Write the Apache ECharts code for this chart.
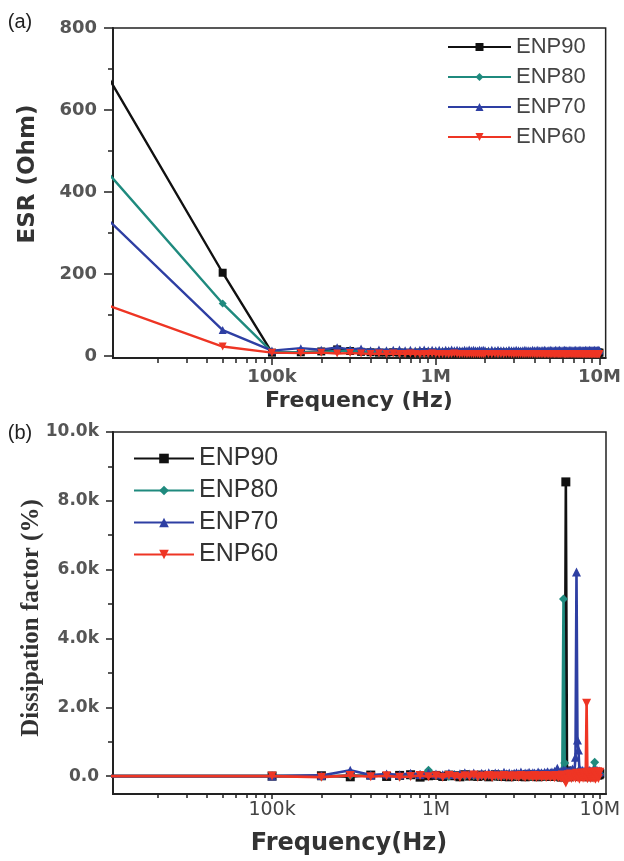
<!DOCTYPE html>
<html><head><meta charset="utf-8">
<script src="https://cdn.jsdelivr.net/npm/echarts@6/dist/echarts.min.js"></script>
<style>html,body{margin:0;padding:0;background:#fff}#c{width:624px;height:861px}</style>
</head><body><div id="c"></div>
<script>
// ---------- data ----------
const seriesNames = ['ENP90', 'ENP80', 'ENP70', 'ENP60'];

// tick values (frequency in kHz)
const xTickValuesKHz = [100, 1000, 10000];
const xTickLabels = ['100k', '1M', '10M'];
const xMinorTickValuesKHz = [20, 30, 40, 50, 60, 70, 80, 90,
  200, 300, 400, 500, 600, 700, 800, 900,
  2000, 3000, 4000, 5000, 6000, 7000, 8000, 9000];
const esrTickValues = [0, 200, 400, 600, 800];
const esrMinorTickValues = [100, 300, 500, 700];
const dfTickValues = [0, 2000, 4000, 6000, 8000, 10000];
const dfTickLabels = ['0.0', '2.0k', '4.0k', '6.0k', '8.0k', '10.0k'];
const dfMinorTickValues = [1000, 3000, 5000, 7000, 9000];

// panel (a): frequency (kHz) and ESR (Ohm)
const freqA = [
  10, 50, 100, 150, 200, 250, 300, 350, 400, 450,
  500, 550, 600, 650, 700, 750, 800, 850, 900, 950,
  1000, 1050, 1100, 1150, 1200, 1250, 1300, 1350, 1400, 1450,
  1500, 1550, 1600, 1650, 1700, 1750, 1800, 1850, 1900, 1950,
  2000, 2100, 2200, 2300, 2400, 2500, 2600, 2700, 2800, 2900,
  3000, 3100, 3200, 3300, 3400, 3500, 3600, 3700, 3800, 3900,
  4000, 4100, 4200, 4300, 4400, 4500, 4600, 4700, 4800, 4900,
  5000, 5100, 5200, 5300, 5400, 5500, 5600, 5700, 5800, 5900,
  6000, 6100, 6200, 6300, 6400, 6500, 6600, 6700, 6800, 6900,
  7000, 7100, 7200, 7300, 7400, 7500, 7600, 7700, 7800, 7900,
  8000, 8100, 8200, 8300, 8400, 8500, 8600, 8700, 8800, 8900,
  9000, 9100, 9200, 9300, 9400, 9500, 9600, 9700, 9800, 9900,
  10000];
const esrENP90 = [
  680, 203, 8, 9, 11, 16, 12, 10, 9, 8,
  8, 9, 8, 8, 7, 8, 8, 9, 8, 8,
  8, 7, 8, 8, 9, 8, 7, 8, 8, 8,
  9, 8, 8, 7, 8, 8, 8, 9, 8, 8,
  8, 8, 7, 8, 9, 8, 8, 8, 7, 8,
  8, 9, 8, 8, 8, 7, 8, 8, 9, 8,
  8, 8, 8, 7, 8, 8, 9, 8, 8, 8,
  7, 8, 8, 8, 9, 8, 8, 7, 8, 8,
  8, 9, 8, 8, 8, 7, 8, 8, 8, 9,
  8, 8, 7, 8, 8, 8, 9, 8, 8, 7,
  8, 8, 8, 9, 8, 8, 7, 8, 8, 8,
  9, 8, 8, 7, 8, 8, 8, 9, 8, 8,
  8];
const esrENP80 = [
  446, 128, 10, 9, 10, 12, 13, 11, 9, 10,
  9, 10, 11, 9, 10, 9, 10, 11, 10, 9,
  10, 9, 10, 10, 11, 9, 10, 9, 10, 10,
  11, 10, 9, 10, 10, 9, 11, 10, 10, 9,
  10, 10, 9, 11, 10, 10, 9, 10, 11, 10,
  9, 10, 10, 11, 9, 10, 10, 9, 10, 11,
  10, 9, 10, 10, 11, 10, 9, 10, 10, 9,
  11, 10, 10, 9, 10, 11, 10, 9, 10, 10,
  9, 10, 11, 10, 10, 9, 10, 10, 11, 9,
  10, 10, 9, 10, 11, 10, 10, 9, 10, 10,
  11, 9, 10, 10, 10, 9, 11, 10, 10, 9,
  10, 11, 10, 9, 10, 10, 9, 10, 11, 10,
  10];
const esrENP70 = [
  332, 63, 13, 19, 15, 21, 16, 18, 14, 16,
  14, 15, 16, 14, 15, 13, 15, 16, 14, 15,
  14, 15, 13, 15, 14, 16, 14, 15, 14, 13,
  15, 14, 16, 14, 15, 14, 13, 15, 14, 15,
  14, 13, 15, 14, 15, 14, 14, 13, 15, 14,
  14, 15, 14, 13, 14, 15, 14, 14, 13, 15,
  14, 14, 15, 13, 14, 14, 15, 14, 13, 14,
  15, 14, 14, 13, 15, 14, 14, 15, 13, 14,
  14, 15, 14, 14, 13, 14, 15, 14, 14, 13,
  14, 15, 14, 13, 14, 14, 15, 14, 13, 14,
  14, 13, 15, 14, 14, 13, 14, 15, 14, 14,
  13, 14, 14, 15, 14, 13, 14, 14, 15, 14,
  14];
const esrENP60 = [
  123, 23, 8, 7, 8, 6, 7, 6, 5, 6,
  5, 6, 5, 5, 6, 5, 4, 5, 5, 6,
  5, 4, 5, 5, 4, 5, 6, 5, 4, 5,
  5, 4, 5, 5, 4, 5, 5, 4, 5, 4,
  5, 5, 4, 5, 4, 5, 4, 5, 5, 4,
  4, 5, 4, 5, 4, 4, 5, 4, 5, 4,
  5, 4, 4, 5, 4, 5, 4, 4, 5, 4,
  4, 5, 4, 4, 5, 4, 4, 5, 4, 4,
  5, 4, 4, 5, 4, 4, 5, 4, 4, 5,
  4, 4, 5, 4, 4, 5, 4, 4, 5, 4,
  4, 5, 4, 4, 4, 5, 4, 4, 5, 4,
  4, 4, 5, 4, 4, 5, 4, 4, 4, 5,
  4];

// panel (b): frequency (kHz) and dissipation factor (%)
const freqB = [
  10, 100, 200, 300, 400, 500, 600, 700, 800, 900,
  1000, 1100, 1200, 1300, 1400, 1500, 1600, 1700, 1800, 1900,
  2000, 2100, 2200, 2300, 2400, 2500, 2600, 2700, 2800, 2900,
  3000, 3100, 3200, 3300, 3400, 3500, 3600, 3700, 3800, 3900,
  4000, 4100, 4200, 4300, 4400, 4500, 4600, 4700, 4800, 4900,
  5000, 5100, 5200, 5300, 5400, 5500, 5600, 5700, 5800, 5900,
  6000, 6100, 6200, 6300, 6400, 6500, 6600, 6700, 6800, 6900,
  7000, 7100, 7200, 7300, 7400, 7500, 7600, 7700, 7800, 7900,
  8000, 8100, 8200, 8300, 8400, 8500, 8600, 8700, 8800, 8900,
  9000, 9100, 9200, 9300, 9400, 9500, 9600, 9700, 9800, 9900,
  10000];
const dfENP90 = [
  0, 0, 10, -20, 30, -10, 20, 40, -30, 10,
  20, -10, 30, 10, -20, 40, 0, 20, -10, 30,
  10, -20, 20, 40, 0, -10, 30, 10, -20, 20,
  0, 30, -10, 20, 10, -20, 40, 0, 20, -10,
  30, 10, -20, 20, 0, 40, -10, 20, 10, 30,
  -10, 20, 40, 0, 30, 10, 60, 20, -30, 40,
  80, 60, 8550, 150, 40, -20, 60, 30, 10, 50,
  20, 40, 90, 30, 60, -10, 40, 20, 50, 10,
  30, 60, 20, 40, 10, 50, -20, 30, 60, 20,
  40, 10, 60, 30, 20, 50, 80, 30, 60, 40,
  70];
const dfENP80 = [
  0, 0, -10, 20, 10, 30, -20, 10, 40, 170,
  20, 10, -10, 30, 20, 0, 40, 10, -20, 30,
  10, 40, 0, 20, -10, 30, 10, 50, 20, 0,
  30, -10, 20, 40, 10, 0, 30, 20, -10, 40,
  20, 10, 50, 0, 30, 20, -10, 40, 10, 30,
  0, 40, 20, 10, 50, 30, -10, 60, 20, 40,
  5150, 380, 60, 20, 40, 10, 70, 30, 50, 20,
  60, 40, 30, 80, 20, 50, 10, 60, 40, 90,
  30, 50, 70, 20, 60, 40, 80, 30, 50, 60,
  40, 70, 30, 400, 90, 50, 60, 120, 40, 80,
  60];
const dfENP70 = [
  0, 0, 20, 170, 30, 60, 40, 80, 50, 90,
  60, 40, 80, 50, 70, 100, 60, 90, 50, 80,
  70, 100, 60, 90, 80, 50, 110, 70, 90, 60,
  80, 100, 70, 120, 60, 90, 80, 110, 70, 100,
  90, 60, 120, 80, 100, 70, 110, 90, 130, 80,
  100, 120, 90, 140, 110, 230, 130, 100, 150, 120,
  180, 140, 160, 120, 150, 130, 170, 140, 210, 160,
  140, 550, 5930, 1050, 760, 220, 150, 130, 170, 120,
  150, 110, 160, 130, 140, 120, 170, 110, 150, 130,
  120, 160, 140, 110, 150, 130, 170, 140, 120, 150,
  130];
const dfENP60 = [
  0, 0, -30, 20, -20, 10, -30, -10, 20, -20,
  10, -30, 20, -10, -40, 10, -20, 30, -30, 0,
  -20, 20, -40, 10, -10, -30, 20, -20, 0, -40,
  10, -20, -30, 20, -10, -40, 10, -20, 0, -30,
  20, -40, -10, 10, -30, -20, 20, -40, 0, -10,
  -30, 10, -20, -50, 20, -10, -40, 0, -60, 30,
  -80, -120, -200, -90, 40, -50, 60, -70, 30, -40,
  50, -60, 80, -40, 70, -90, 40, -30, 90, -60,
  60, -50, 100, 2120, -80, 70, -40, 110, -70, 90,
  -50, 120, -60, 80, -90, 100, -40, 130, -70, 90,
  110];

// ---------- styling ----------
const seriesColors = ['#111111', '#1f8a7e', '#2e3fa3', '#ee3524'];
const seriesSymbols = ['rect', 'diamond', 'triangle', 'triangle'];
const symbolRotations = [0, 0, 0, 180];
const AX = '#222';
const X_MIN = 10.7, X_MAX = 10900;

const xMajorLog = xTickValuesKHz.map(v => Math.log10(v));
const xMinorLog = xMinorTickValuesKHz.map(v => Math.log10(v));
function xFmt(v) {
  const i = xMajorLog.findIndex(t => Math.abs(t - v) < 1e-6);
  return i >= 0 ? xTickLabels[i] : '';
}
function dfFmt(v) {
  const i = dfTickValues.findIndex(t => Math.abs(t - v) < 1e-6);
  return i >= 0 ? dfTickLabels[i] : '';
}

function xAxesFor(grid, labelStyle, majLen, minLen) {
  return [
    { type: 'log', gridIndex: grid, min: X_MIN, max: X_MAX,
      axisLine: { show: true, onZero: false, lineStyle: { color: AX, width: 2 } },
      axisTick: { show: false }, axisLabel: { show: false },
      splitLine: { show: false }, minorTick: { show: false }, minorSplitLine: { show: false } },
    { type: 'value', gridIndex: grid, position: 'bottom',
      min: Math.log10(X_MIN), max: Math.log10(X_MAX),
      axisLine: { show: false, onZero: false },
      axisTick: { show: true, customValues: xMajorLog, length: majLen, lineStyle: { color: AX, width: 1.5 } },
      axisLabel: Object.assign({ show: true, customValues: xMajorLog, formatter: xFmt }, labelStyle),
      splitLine: { show: false } },
    { type: 'value', gridIndex: grid, position: 'bottom',
      min: Math.log10(X_MIN), max: Math.log10(X_MAX),
      axisLine: { show: false, onZero: false },
      axisTick: { show: true, customValues: xMinorLog, length: minLen, lineStyle: { color: AX, width: 1.5 } },
      axisLabel: { show: false }, splitLine: { show: false } }
  ];
}

function makeSeries(freqs, valueLists, xIdx, yIdx, size, lw) {
  return seriesNames.map((name, i) => ({
    name: name, type: 'line', xAxisIndex: xIdx, yAxisIndex: yIdx,
    data: freqs.map((f, k) => [f, valueLists[i][k]]),
    symbol: seriesSymbols[i], symbolRotate: symbolRotations[i], symbolSize: size,
    showAllSymbol: true, clip: true, z: 2 + i,
    lineStyle: { color: seriesColors[i], width: lw },
    itemStyle: { color: seriesColors[i], borderWidth: 0 },
    emphasis: { disabled: true }
  }));
}

const chart = echarts.init(document.getElementById('c'), null, { renderer: 'canvas' });
const option = {
  backgroundColor: '#ffffff',
  animation: false,
  grid: [
    { left: 113, top: 28, width: 493, height: 330, show: true, borderColor: AX, borderWidth: 1.5, backgroundColor: 'transparent' },
    { left: 113, top: 432, width: 493, height: 362, show: true, borderColor: AX, borderWidth: 1.5, backgroundColor: 'transparent' }
  ],
  xAxis: [].concat(
    xAxesFor(0, { margin: 10, fontFamily: 'DejaVu Sans', fontWeight: 'bold', fontSize: 18, color: '#555' }, 7, 5),
    xAxesFor(1, { margin: 7, fontFamily: 'DejaVu Sans', fontWeight: 'normal', fontSize: 19, color: '#444' }, 5, 4)
  ),
  yAxis: [
    { type: 'value', gridIndex: 0, position: 'left', min: -5, max: 800,
      axisLine: { show: true, onZero: false, lineStyle: { color: AX, width: 2 } },
      axisTick: { show: true, customValues: esrTickValues, length: 9, lineStyle: { color: AX, width: 1.5 } },
      axisLabel: { show: true, customValues: esrTickValues, margin: 16, fontFamily: 'DejaVu Sans', fontWeight: 'bold', fontSize: 18, color: '#555' },
      splitLine: { show: false } },
    { type: 'value', gridIndex: 0, position: 'left', min: -5, max: 800,
      axisLine: { show: false, onZero: false },
      axisTick: { show: true, customValues: esrMinorTickValues, length: 5, lineStyle: { color: AX, width: 1.5 } },
      axisLabel: { show: false }, splitLine: { show: false } },
    { type: 'value', gridIndex: 1, position: 'left', min: -520, max: 10000,
      axisLine: { show: true, onZero: false, lineStyle: { color: AX, width: 2 } },
      axisTick: { show: true, customValues: dfTickValues, length: 7, lineStyle: { color: AX, width: 1.5 } },
      axisLabel: { show: true, customValues: dfTickValues, formatter: dfFmt, margin: 14, fontFamily: 'DejaVu Sans', fontWeight: 'bold', fontSize: 17, color: '#555' },
      splitLine: { show: false } },
    { type: 'value', gridIndex: 1, position: 'left', min: -520, max: 10000,
      axisLine: { show: false, onZero: false },
      axisTick: { show: true, customValues: dfMinorTickValues, length: 5, lineStyle: { color: AX, width: 1.5 } },
      axisLabel: { show: false }, splitLine: { show: false } }
  ],
  legend: [
    { data: seriesNames, orient: 'vertical', left: 447, top: 36, padding: 0,
      itemWidth: 63, itemHeight: 10, itemGap: 8, selectedMode: false,
      textStyle: { fontFamily: 'Liberation Sans', fontSize: 22, color: '#444' } },
    { data: seriesNames, orient: 'vertical', left: 133, top: 446, padding: 0,
      itemWidth: 60, itemHeight: 12, itemGap: 7, selectedMode: false,
      textStyle: { fontFamily: 'Liberation Sans', fontSize: 25, color: '#333' } }
  ],
  graphic: [
    { type: 'text', x: 20, y: 22, style: { text: '(a)', font: '20px "Liberation Sans"', fill: '#222', textAlign: 'center', textVerticalAlign: 'middle', align: 'center', verticalAlign: 'middle' } },
    { type: 'text', x: 20, y: 433, style: { text: '(b)', font: '20px "Liberation Sans"', fill: '#222', textAlign: 'center', textVerticalAlign: 'middle', align: 'center', verticalAlign: 'middle' } },
    { type: 'text', x: 28, y: 174, rotation: Math.PI / 2, style: { text: 'ESR (Ohm)', font: 'bold 23px "DejaVu Sans"', fill: '#333', textAlign: 'center', textVerticalAlign: 'middle', align: 'center', verticalAlign: 'middle' } },
    { type: 'text', x: 359, y: 401, style: { text: 'Frequency (Hz)', font: 'bold 22px "DejaVu Sans"', fill: '#333', textAlign: 'center', textVerticalAlign: 'middle', align: 'center', verticalAlign: 'middle' } },
    { type: 'text', x: 32, y: 618, rotation: Math.PI / 2, style: { text: 'Dissipation factor (%)', font: 'bold 25px "Liberation Serif"', fill: '#333', textAlign: 'center', textVerticalAlign: 'middle', align: 'center', verticalAlign: 'middle' } },
    { type: 'text', x: 349, y: 844, style: { text: 'Frequency(Hz)', font: 'bold 24px "DejaVu Sans"', fill: '#333', textAlign: 'center', textVerticalAlign: 'middle', align: 'center', verticalAlign: 'middle' } }
  ],
  series: [].concat(
    makeSeries(freqA, [esrENP90, esrENP80, esrENP70, esrENP60], 0, 0, 8, 2.4),
    makeSeries(freqB, [dfENP90, dfENP80, dfENP70, dfENP60], 3, 2, 9, 2.6)
  )
};
chart.setOption(option);
</script>
</body></html>
